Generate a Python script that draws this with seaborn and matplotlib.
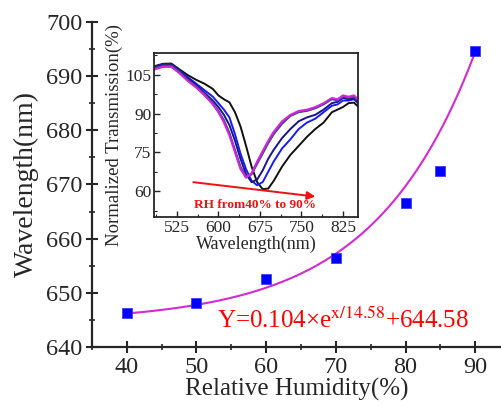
import numpy as np
import pandas as pd
import matplotlib
matplotlib.use("Agg")
import matplotlib.pyplot as plt
import seaborn as sns
from matplotlib.ticker import MultipleLocator

sns.set_style("ticks")
plt.rcParams['font.family'] = ['Liberation Serif', 'DejaVu Serif']
plt.rcParams['mathtext.fontset'] = 'stix'

# ---- main data ----
rh = [40, 50, 60, 70, 80, 85, 90]
peak_wl = [646.3, 648.1, 652.5, 656.4, 666.6, 672.5, 694.7]
fit_a, fit_t, fit_c = 0.104, 14.58, 644.58

# ---- inset spectra ----
wl = [485, 500, 515, 530, 545, 560, 575, 590, 600, 610, 620, 630, 640, 650, 660,
      670, 680, 690, 700, 715, 730, 745, 760, 775, 790, 805, 815, 825, 835, 845, 852]
t_black = [108.3, 109.2, 109.3, 107.0, 104.8, 103.0, 101.5, 99.5, 97.0, 95.5, 94.3, 90.5,
           85.0, 77.5, 69.5, 63.5, 60.8, 61.0, 64.0, 69.5, 74.0, 77.5, 81.0, 84.0, 86.5,
           90.5, 91.5, 92.5, 94.0, 94.2, 92.7]
t_blue = [108.0, 109.0, 109.0, 106.5, 104.0, 101.5, 99.0, 96.5, 94.0, 91.5, 88.5, 82.0,
          74.5, 68.5, 64.0, 62.3, 63.5, 67.5, 71.5, 76.5, 80.0, 84.0, 86.5, 88.0, 90.5,
          93.0, 93.5, 95.0, 95.0, 95.5, 94.0]
t_navy = [107.8, 108.8, 108.8, 106.2, 103.5, 101.0, 98.0, 95.0, 92.5, 89.5, 85.5, 79.5,
          72.5, 66.5, 63.5, 64.5, 68.0, 72.5, 76.0, 80.5, 84.0, 87.0, 88.5, 89.5, 91.5,
          94.0, 94.5, 96.0, 95.5, 96.0, 94.5]
t_green = [107.5, 108.5, 108.5, 106.0, 103.0, 100.5, 97.5, 94.0, 91.0, 87.5, 82.5, 76.0,
           69.5, 65.5, 66.5, 70.5, 74.5, 78.5, 82.0, 86.0, 89.0, 90.5, 91.0, 92.0, 93.5,
           95.5, 95.0, 96.5, 96.0, 96.5, 95.0]
t_purple = [107.2, 108.2, 108.2, 105.7, 102.7, 100.2, 97.2, 93.7, 90.7, 87.0, 82.0, 75.5,
            69.0, 65.2, 66.7, 71.0, 75.0, 79.0, 82.5, 86.5, 89.2, 90.7, 91.2, 92.2, 93.8,
            95.8, 95.2, 96.8, 96.2, 96.8, 95.2]
t_magenta = [107.0, 108.0, 108.0, 105.5, 102.5, 100.0, 97.0, 93.5, 90.5, 86.5, 81.5, 75.0,
             68.5, 65.3, 67.0, 71.5, 75.5, 79.5, 83.0, 87.0, 89.5, 91.0, 91.5, 92.5, 94.0,
             96.0, 95.5, 97.0, 96.5, 97.0, 95.5]

spectra = [("40", t_black, "#111111"), ("50", t_blue, "#1a1aff"), ("60", t_navy, "#15158f"),
           ("70", t_green, "#2f5a50"), ("80", t_purple, "#7a2ee0"), ("90", t_magenta, "#d426d4")]

fig = plt.figure(figsize=(5.02, 4.05), dpi=100)
ax = fig.add_axes([0.183, 0.143, 0.815, 0.803])

xs = np.linspace(40, 90, 200)
fit_df = pd.DataFrame({"x": xs, "y": fit_a * np.exp(xs / fit_t) + fit_c})
sns.lineplot(data=fit_df, x="x", y="y", ax=ax, color="#d22bd2", lw=1.5)
pts = pd.DataFrame({"rh": rh, "wl": peak_wl})
sns.scatterplot(data=pts, x="rh", y="wl", ax=ax, marker="s", s=45, color="#0000ff",
                edgecolor="#3030ff", linewidth=0.5, zorder=5)

ax.set_xlim(35, 93.7)
ax.set_ylim(640, 700)
ax.xaxis.set_major_locator(MultipleLocator(10))
ax.xaxis.set_minor_locator(MultipleLocator(5))
ax.yaxis.set_major_locator(MultipleLocator(10))
ax.yaxis.set_minor_locator(MultipleLocator(5))
sns.despine(ax=ax)
for s in ["left", "bottom"]:
    ax.spines[s].set_linewidth(1.6)
ax.tick_params(which="major", direction="inout", length=8, width=1.5, labelsize=17.5, pad=3)
ax.tick_params(which="minor", direction="inout", length=5, width=1.2)
ax.set_xlabel("Relative Humidity(%)", fontsize=18, labelpad=0)
ax.set_ylabel("Wavelength(nm)", fontsize=20, labelpad=5)
ax.text(71.0, 645.0, r"Y=0.104×e$^{\mathrm{x/14.58}}$+644.58", color="#ff0000",
        fontsize=18, ha="center", va="center")

# ---- inset ----
ins = fig.add_axes([0.307, 0.464, 0.406, 0.406])
for lab, t, c in spectra:
    d = pd.DataFrame({"wl": wl, "t": t})
    sns.lineplot(data=d, x="wl", y="t", ax=ins, color=c, lw=1.4)
ins.set_xlim(484, 852)
ins.set_ylim(50, 113.5)
ins.xaxis.set_major_locator(MultipleLocator(75))
ins.xaxis.set_minor_locator(MultipleLocator(37.5))
ins.yaxis.set_major_locator(MultipleLocator(15))
ins.yaxis.set_minor_locator(MultipleLocator(7.5))
ins.tick_params(which="major", direction="in", length=4, width=1.0, labelsize=12.5, pad=2)
ins.tick_params(which="minor", direction="in", length=2.5, width=0.8)
for s in ins.spines.values():
    s.set_linewidth(1.3)
ins.set_xlabel("Wavelength(nm)", fontsize=13, labelpad=0)
ins.set_ylabel("Normalized Transmission(%)", fontsize=13.5, labelpad=2)
ins.annotate("", xy=(780, 57.8), xytext=(550, 63.6),
             arrowprops=dict(arrowstyle="-|>", color="#ee1111", lw=1.4, mutation_scale=12))
ins.text(666, 54.6, "RH from40% to 90%", color="#ee1111", fontsize=9.5,
         fontweight="bold", ha="center", va="center")

fig.savefig("out.png", dpi=100)
